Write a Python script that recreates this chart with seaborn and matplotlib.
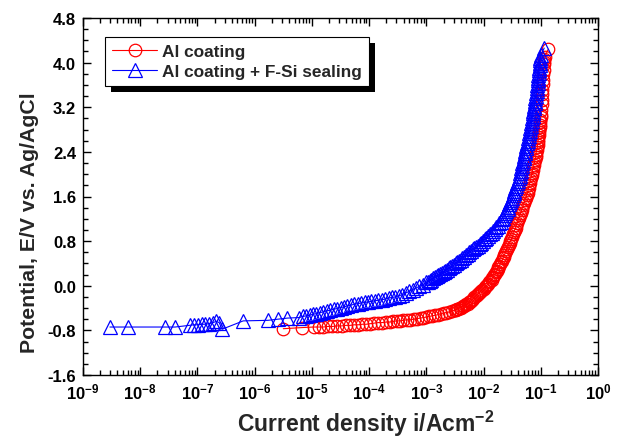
import numpy as np
import pandas as pd
import matplotlib
matplotlib.use("Agg")
import matplotlib.pyplot as plt
import seaborn as sns
from matplotlib.ticker import LogLocator, FixedLocator, FixedFormatter, MultipleLocator, FormatStrFormatter, NullFormatter
from matplotlib.patches import Rectangle

# ---------------- data ----------------
red_label = "Al coating"
blue_label = "Al coating + F-Si sealing"

# (log10 current density [A/cm2], potential [V vs Ag/AgCl])
red_points = [
    (-5.50, -0.77), (-5.17, -0.75), (-4.97, -0.74), (-4.88, -0.74), (-4.80, -0.74),
    (-4.72, -0.73), (-4.64, -0.73), (-4.56, -0.72), (-4.48, -0.72), (-4.40, -0.71),
    (-4.33, -0.71), (-4.26, -0.70), (-4.19, -0.70), (-4.12, -0.69), (-4.05, -0.69),
    (-3.98, -0.68), (-3.91, -0.67), (-3.84, -0.66), (-3.77, -0.66), (-3.70, -0.65),
    (-3.64, -0.65), (-3.58, -0.64), (-3.52, -0.63), (-3.46, -0.63), (-3.40, -0.62),
    (-3.34, -0.61), (-3.28, -0.61), (-3.22, -0.60), (-3.16, -0.59), (-3.10, -0.58),
    (-3.05, -0.57), (-3.00, -0.56), (-2.95, -0.55), (-2.90, -0.54), (-2.85, -0.53),
    (-2.80, -0.52), (-2.75, -0.50), (-2.70, -0.49), (-2.65, -0.48), (-2.60, -0.47),
    (-2.55, -0.45), (-2.50, -0.44), (-2.48, -0.43), (-2.46, -0.42), (-2.44, -0.41),
    (-2.42, -0.40), (-2.40, -0.39), (-2.38, -0.38), (-2.36, -0.37), (-2.34, -0.36),
    (-2.32, -0.35), (-2.30, -0.33), (-2.28, -0.32), (-2.26, -0.30), (-2.24, -0.29),
    (-2.22, -0.27), (-2.20, -0.25), (-2.18, -0.23), (-2.16, -0.21), (-2.14, -0.19),
    (-2.12, -0.17), (-2.10, -0.15), (-2.08, -0.13), (-2.06, -0.11), (-2.04, -0.09),
    (-2.02, -0.07), (-2.00, -0.05), (-1.98, -0.03), (-1.96, -0.01), (-1.94, 0.01),
    (-1.92, 0.04), (-1.90, 0.06), (-1.88, 0.09), (-1.86, 0.11), (-1.845, 0.14),
    (-1.83, 0.16), (-1.815, 0.19), (-1.80, 0.21), (-1.785, 0.24), (-1.77, 0.27),
    (-1.755, 0.30), (-1.74, 0.33), (-1.725, 0.36), (-1.71, 0.39), (-1.695, 0.42),
    (-1.68, 0.45), (-1.665, 0.49), (-1.65, 0.52), (-1.635, 0.56), (-1.62, 0.59),
    (-1.605, 0.63), (-1.59, 0.66), (-1.575, 0.70), (-1.56, 0.73), (-1.545, 0.77),
    (-1.53, 0.80), (-1.515, 0.84), (-1.50, 0.88), (-1.485, 0.92), (-1.47, 0.96),
    (-1.455, 1.00), (-1.44, 1.04), (-1.425, 1.09), (-1.41, 1.13), (-1.395, 1.18),
    (-1.38, 1.22), (-1.365, 1.27), (-1.35, 1.31), (-1.335, 1.36), (-1.32, 1.40),
    (-1.305, 1.45), (-1.29, 1.49), (-1.275, 1.54), (-1.26, 1.58), (-1.245, 1.63),
    (-1.23, 1.67), (-1.22, 1.72), (-1.21, 1.76), (-1.20, 1.81), (-1.19, 1.85),
    (-1.18, 1.90), (-1.17, 1.94), (-1.16, 1.99), (-1.15, 2.03), (-1.14, 2.08),
    (-1.13, 2.12), (-1.12, 2.17), (-1.11, 2.21), (-1.10, 2.26), (-1.09, 2.30),
    (-1.085, 2.35), (-1.08, 2.39), (-1.07, 2.44), (-1.06, 2.48), (-1.055, 2.53),
    (-1.05, 2.57), (-1.045, 2.62), (-1.04, 2.66), (-1.035, 2.71), (-1.03, 2.75),
    (-1.025, 2.80), (-1.02, 2.84), (-1.015, 2.89), (-1.01, 2.93), (-1.005, 2.98),
    (-1.00, 3.02), (-0.995, 3.07), (-0.99, 3.11), (-0.99, 3.16), (-0.99, 3.20),
    (-0.985, 3.25), (-0.98, 3.29), (-0.98, 3.34), (-0.98, 3.38), (-0.975, 3.43),
    (-0.97, 3.47), (-0.97, 3.52), (-0.97, 3.56), (-0.965, 3.61), (-0.96, 3.65),
    (-0.96, 3.70), (-0.96, 3.74), (-0.955, 3.79), (-0.95, 3.83), (-0.95, 3.88),
    (-0.95, 3.92), (-0.945, 3.97), (-0.94, 4.01), (-0.935, 4.06), (-0.93, 4.10),
    (-0.87, 4.24),
]

blue_points = [
    (-8.53, -0.74), (-8.21, -0.74), (-7.57, -0.74), (-7.39, -0.74), (-7.13, -0.71),
    (-7.06, -0.70), (-6.99, -0.70), (-6.92, -0.69), (-6.86, -0.69), (-6.80, -0.68),
    (-6.73, -0.66), (-6.67, -0.64), (-6.62, -0.66), (-6.57, -0.78), (-6.20, -0.63),
    (-5.77, -0.62), (-5.60, -0.60), (-5.43, -0.58), (-5.22, -0.57), (-5.16, -0.55),
    (-5.10, -0.54), (-5.04, -0.53), (-4.98, -0.51), (-4.92, -0.50), (-4.86, -0.48),
    (-4.80, -0.47), (-4.74, -0.45), (-4.68, -0.44), (-4.62, -0.42), (-4.56, -0.41),
    (-4.50, -0.39), (-4.44, -0.38), (-4.38, -0.36), (-4.32, -0.35), (-4.26, -0.33),
    (-4.20, -0.32), (-4.14, -0.31), (-4.08, -0.30), (-4.02, -0.29), (-3.96, -0.28),
    (-3.90, -0.27), (-3.84, -0.26), (-3.78, -0.25), (-3.72, -0.24), (-3.66, -0.22),
    (-3.60, -0.21), (-3.54, -0.20), (-3.48, -0.18), (-3.42, -0.16), (-3.36, -0.13),
    (-3.30, -0.10), (-3.24, -0.07), (-3.18, -0.04), (-3.12, -0.01), (-3.06, 0.02),
    (-3.00, 0.06), (-2.97, 0.07), (-2.94, 0.09), (-2.91, 0.11), (-2.88, 0.13),
    (-2.85, 0.15), (-2.82, 0.17), (-2.79, 0.19), (-2.76, 0.21), (-2.73, 0.23),
    (-2.70, 0.25), (-2.67, 0.27), (-2.64, 0.29), (-2.61, 0.31), (-2.58, 0.33),
    (-2.55, 0.35), (-2.52, 0.37), (-2.49, 0.40), (-2.46, 0.42), (-2.43, 0.45),
    (-2.40, 0.47), (-2.37, 0.50), (-2.34, 0.52), (-2.31, 0.55), (-2.28, 0.57),
    (-2.25, 0.60), (-2.22, 0.62), (-2.19, 0.65), (-2.16, 0.67), (-2.13, 0.70),
    (-2.10, 0.72), (-2.07, 0.75), (-2.04, 0.77), (-2.01, 0.80), (-1.98, 0.83),
    (-1.95, 0.86), (-1.92, 0.89), (-1.89, 0.92), (-1.86, 0.95), (-1.83, 0.99),
    (-1.80, 1.02), (-1.775, 1.05), (-1.75, 1.08), (-1.725, 1.12), (-1.70, 1.15),
    (-1.68, 1.19), (-1.66, 1.22), (-1.64, 1.26), (-1.62, 1.30), (-1.60, 1.34),
    (-1.58, 1.38), (-1.565, 1.42), (-1.55, 1.46), (-1.535, 1.50), (-1.52, 1.54),
    (-1.505, 1.58), (-1.49, 1.62), (-1.475, 1.66), (-1.46, 1.70), (-1.445, 1.75),
    (-1.43, 1.79), (-1.415, 1.84), (-1.40, 1.88), (-1.385, 1.93), (-1.37, 1.97),
    (-1.36, 2.02), (-1.35, 2.06), (-1.34, 2.11), (-1.33, 2.15), (-1.32, 2.20),
    (-1.31, 2.24), (-1.30, 2.29), (-1.29, 2.33), (-1.28, 2.38), (-1.27, 2.42),
    (-1.26, 2.47), (-1.25, 2.51), (-1.24, 2.56), (-1.23, 2.60), (-1.22, 2.65),
    (-1.21, 2.69), (-1.20, 2.74), (-1.19, 2.78), (-1.18, 2.83), (-1.17, 2.87),
    (-1.165, 2.92), (-1.16, 2.96), (-1.15, 3.01), (-1.14, 3.05), (-1.135, 3.10),
    (-1.13, 3.14), (-1.12, 3.19), (-1.11, 3.23), (-1.105, 3.28), (-1.10, 3.32),
    (-1.095, 3.37), (-1.09, 3.41), (-1.08, 3.46), (-1.07, 3.50), (-1.065, 3.55),
    (-1.06, 3.59), (-1.055, 3.64), (-1.05, 3.68), (-1.045, 3.73), (-1.04, 3.77),
    (-1.035, 3.82), (-1.03, 3.86), (-1.025, 3.91), (-1.02, 3.95), (-1.015, 4.00),
    (-1.01, 4.04), (-1.005, 4.09), (-1.00, 4.13), (-0.94, 4.26),
]

y_ticks = [-1.6, -0.8, 0.0, 0.8, 1.6, 2.4, 3.2, 4.0, 4.8]
x_exponents = [-9, -8, -7, -6, -5, -4, -3, -2, -1, 0]
x_tick_labels = [r"$\mathbf{10^{%d}}$" % e for e in x_exponents]

# ---------------- style ----------------
sns.set_theme(style="ticks")
plt.rcParams.update({
    "font.family": ["Liberation Sans", "DejaVu Sans"],
    "font.weight": "bold",
    "mathtext.fontset": "custom",
    "mathtext.rm": "Liberation Sans:bold",
    "mathtext.bf": "Liberation Sans:bold",
    "mathtext.it": "Liberation Sans:bold",
    "axes.linewidth": 1.0,
})

red_df = pd.DataFrame({"current": np.power(10.0, [p[0] for p in red_points]),
                       "E": [p[1] for p in red_points]})
blue_df = pd.DataFrame({"current": np.power(10.0, [p[0] for p in blue_points]),
                        "E": [p[1] for p in blue_points]})

fig = plt.figure(figsize=(6.21, 4.39), dpi=100)
ax = fig.add_axes([83 / 621, 1 - 376 / 439, 515 / 621, 357 / 439])

sns.lineplot(data=red_df, x="current", y="E", sort=False, ax=ax, color="#FF0000",
             linewidth=0.8, marker="o", markersize=9, markerfacecolor="none",
             markeredgecolor="#FF0000", markeredgewidth=0.9, label=red_label)
sns.lineplot(data=blue_df, x="current", y="E", sort=False, ax=ax, color="#0000FF",
             linewidth=0.8, marker="^", markersize=10, markerfacecolor="none",
             markeredgecolor="#0000FF", markeredgewidth=0.9, label=blue_label)

ax.set_xscale("log")
ax.set_xlim(1e-9, 1)
ax.set_ylim(-1.6, 4.8)

ax.xaxis.set_major_locator(FixedLocator([10.0 ** e for e in x_exponents]))
ax.xaxis.set_major_formatter(FixedFormatter(x_tick_labels))
ax.xaxis.set_minor_locator(LogLocator(base=10, subs=np.arange(2, 10), numticks=100))
ax.xaxis.set_minor_formatter(NullFormatter())
ax.yaxis.set_major_locator(FixedLocator(y_ticks))
ax.yaxis.set_major_formatter(FormatStrFormatter("%.1f"))
ax.yaxis.set_minor_locator(MultipleLocator(0.2))

ax.tick_params(which="both", direction="in", top=True, right=True, colors="black",
               labelsize=12, width=1.0)
ax.tick_params(which="major", length=6, pad=5)
ax.tick_params(which="minor", length=3.5)
for s in ax.spines.values():
    s.set_color("black")
    s.set_linewidth(1.0)

ax.set_xlabel(r"Current density i/Acm$^{\mathbf{-2}}$", fontsize=16.5, fontweight="bold", labelpad=4)
ax.set_ylabel("Potential, E/V vs. Ag/AgCl", fontsize=15.3, fontweight="bold", labelpad=6)
ax.xaxis.label.set_x(0.55)
ax.yaxis.label.set_y(0.43)

leg = ax.legend(loc="upper left", bbox_to_anchor=(22 / 515, 1 - 19 / 357), borderaxespad=0,
                frameon=True, fancybox=False, shadow=False,
                handlelength=2.6, handletextpad=0.3, borderpad=0.42, labelspacing=0.25,
                prop={"weight": "bold", "size": 12.4})
frame = leg.get_frame()
frame.set_edgecolor("black")
frame.set_linewidth(0.8)
frame.set_alpha(1)

fig.canvas.draw()
bb = leg.get_window_extent()
shadow = Rectangle((bb.x0 + 6, bb.y0 - 6), bb.width, bb.height, transform=None,
                   facecolor="black", edgecolor="none", zorder=leg.get_zorder() - 0.1)
ax.add_artist(shadow)

fig.savefig("out.png", dpi=100)
